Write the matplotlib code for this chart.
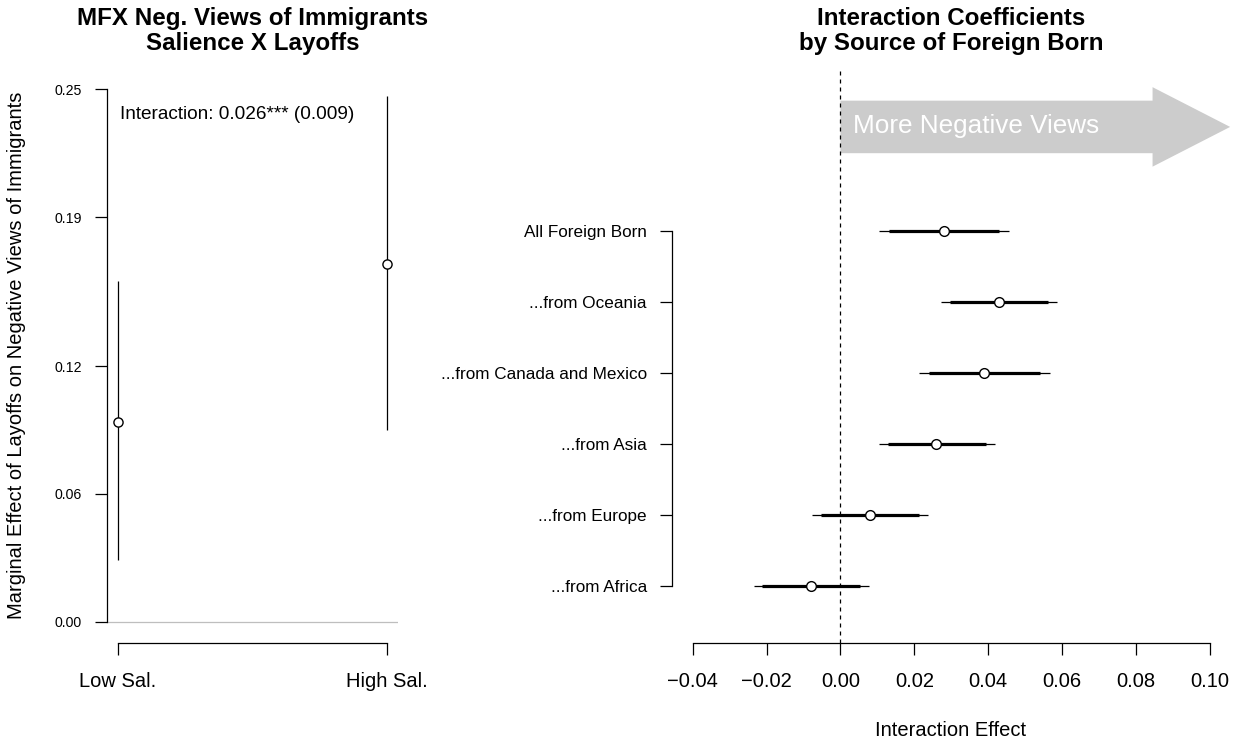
import numpy as np
import matplotlib.pyplot as plt

plt.rcParams['font.family'] = ['Liberation Sans', 'DejaVu Sans']

# left panel: marginal effects at low / high salience
sal_labels = ['Low Sal.', 'High Sal.']
mfx_est = [0.094, 0.168]
mfx_lo = [0.029, 0.090]
mfx_hi = [0.160, 0.247]
mfx_ticks = [0.00, 0.06, 0.12, 0.19, 0.25]
interaction_note = 'Interaction: 0.026*** (0.009)'

# right panel: interaction coefficients by source
groups = ['All Foreign Born', '...from Oceania', '...from Canada and Mexico',
          '...from Asia', '...from Europe', '...from Africa']
coef = [0.028, 0.043, 0.039, 0.026, 0.008, -0.008]
lo95 = [0.0104, 0.0273, 0.0214, 0.0104, -0.0076, -0.0235]
hi95 = [0.0457, 0.0587, 0.0568, 0.0418, 0.0238, 0.0078]
lo90 = [0.0132, 0.0297, 0.0241, 0.0128, -0.0052, -0.0211]
hi90 = [0.0428, 0.0563, 0.0539, 0.0394, 0.0214, 0.0053]
coef_ticks = [-0.04, -0.02, 0.00, 0.02, 0.04, 0.06, 0.08, 0.10]

base = 14.5
W, H = 1234, 744
fig = plt.figure(figsize=(W / 100, H / 100), dpi=100)

ax1 = fig.add_axes([107 / W, 1 - 643 / H, (398 - 107) / W, (643 - 68) / H])
ax2 = fig.add_axes([672 / W, 1 - 643 / H, (1230.5 - 672) / W, (643 - 68) / H])

for ax in (ax1, ax2):
    for s in ['top', 'right']:
        ax.spines[s].set_visible(False)
    for s in ['left', 'bottom']:
        ax.spines[s].set_linewidth(0.9)
    ax.tick_params(direction='out', length=8.6, width=0.9)

# ---- left panel ----
xs = np.arange(1, len(sal_labels) + 1)
ax1.axhline(0, color='#BEBEBE', lw=0.9, zorder=1)
ax1.vlines(xs, mfx_lo, mfx_hi, color='black', lw=0.9, zorder=2)
ax1.plot(xs, mfx_est, 'o', ms=6.6, mfc='white', mec='black', mew=1.0, zorder=3)
ax1.set_xlim(0.96, 2.04)
ax1.set_ylim(-0.01, 0.26)
ax1.set_yticks(mfx_ticks)
ax1.set_yticklabels(['%.2f' % t for t in mfx_ticks])
ax1.set_xticks(xs)
ax1.set_xticklabels(sal_labels)
ax1.spines['left'].set_bounds(mfx_ticks[0], mfx_ticks[-1])
ax1.spines['bottom'].set_bounds(xs[0], xs[-1])
ax1.tick_params(axis='y', labelsize=base * 0.7, pad=9.4)
ax1.tick_params(axis='x', labelsize=base, pad=12)
ax1.text(1.01, 0.236, interaction_note, fontsize=13.7, va='baseline', ha='left')

fig.text(17 / W, 1 - 355.5 / H,
         'Marginal Effect of Layoffs on Negative Views of Immigrants',
         rotation=90, ha='center', va='center', fontsize=base)
fig.text(252.5 / W, 1 - 25 / H, 'MFX Neg. Views of Immigrants',
         ha='center', va='baseline', fontsize=base * 1.2, fontweight='bold')
fig.text(252.5 / W, 1 - 50 / H, 'Salience X Layoffs',
         ha='center', va='baseline', fontsize=base * 1.2, fontweight='bold')

# ---- right panel ----
ys = np.arange(len(groups), 0, -1)
ax2.arrow(0, 7.47, 0.0845, 0, width=0.74, head_width=1.12, head_length=0.021,
          fc='#CCCCCC', ec='none', zorder=1)
ax2.text(0.0034, 7.38, 'More Negative Views', color='white',
         fontsize=base * 1.3, ha='left', va='baseline', zorder=2)
ax2.axvline(0, color='black', lw=0.9, ls=(0, (3.2, 3.2)), zorder=2)
ax2.hlines(ys, lo95, hi95, color='black', lw=0.9, zorder=3)
ax2.hlines(ys, lo90, hi90, color='black', lw=2.3, zorder=3)
ax2.plot(coef, ys, 'o', ms=7, mfc='white', mec='black', mew=1.0, zorder=4)
ax2.set_xlim(-0.0456, 0.1056)
ax2.set_ylim(0.2, 8.3)
ax2.set_xticks(coef_ticks)
ax2.set_xticklabels([('%.2f' % t).replace('-', '\u2212') for t in coef_ticks])
ax2.set_yticks(ys)
ax2.set_yticklabels(groups)
ax2.spines['left'].set_bounds(ys[-1], ys[0])
ax2.spines['bottom'].set_bounds(coef_ticks[0], coef_ticks[-1])
ax2.tick_params(axis='y', labelsize=base * 0.85, pad=9.4)
ax2.tick_params(axis='x', labelsize=base, pad=12)

fig.text(951 / W, 1 - 731 / H, 'Interaction Effect', ha='center', va='center',
         fontsize=base)
fig.text(951 / W, 1 - 25 / H, 'Interaction Coefficients',
         ha='center', va='baseline', fontsize=base * 1.2, fontweight='bold')
fig.text(951 / W, 1 - 50 / H, 'by Source of Foreign Born',
         ha='center', va='baseline', fontsize=base * 1.2, fontweight='bold')

fig.savefig('out.png', dpi=100)
